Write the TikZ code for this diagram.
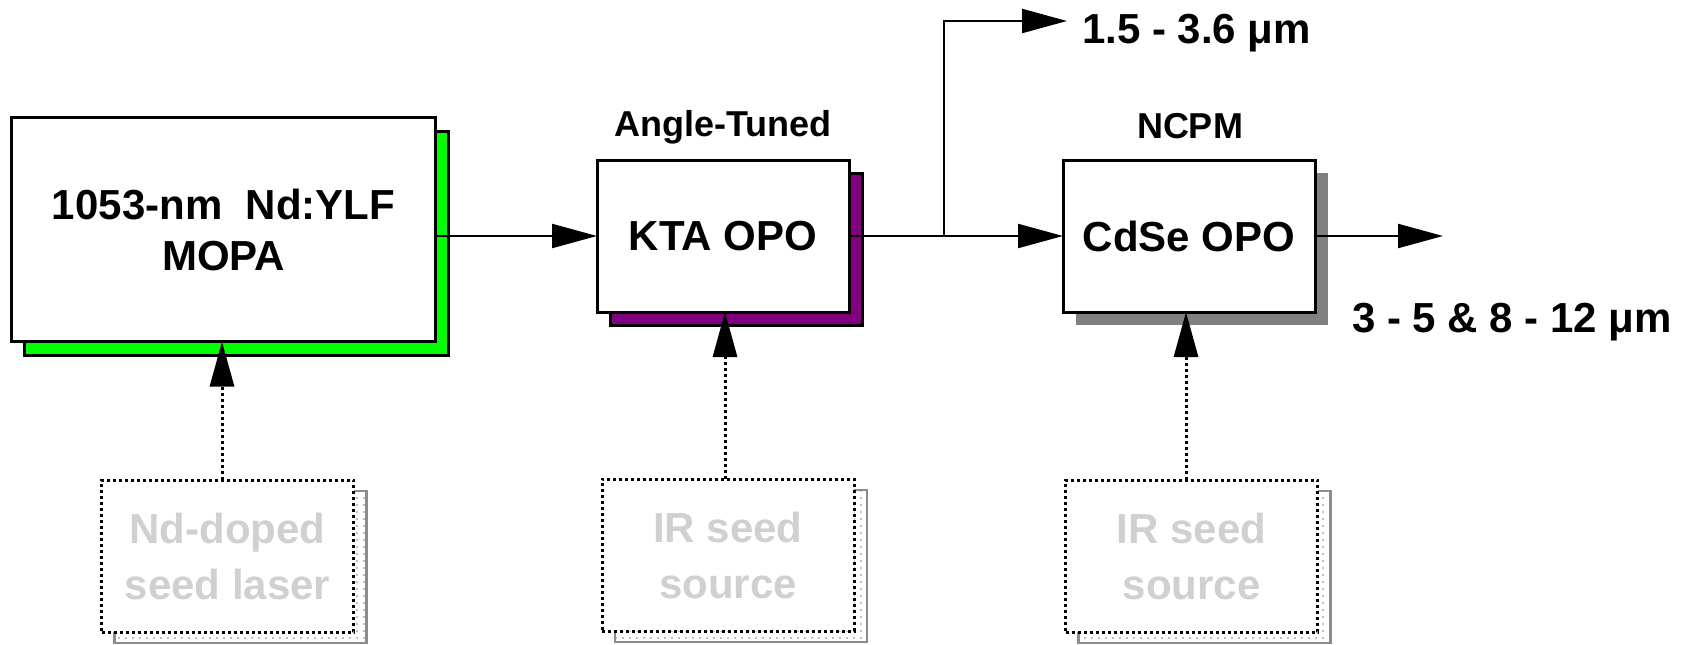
\documentclass[tikz,border=0pt]{standalone}
\usepackage{fontspec}
\setmainfont{Liberation Sans}
\usetikzlibrary{arrows.meta,calc,patterns.meta,backgrounds}
\definecolor{mopagreen}{RGB}{0,255,0}
\definecolor{ktapurple}{RGB}{128,0,128}
\definecolor{cdsegray}{RGB}{128,128,128}
\definecolor{seedtext}{RGB}{208,208,208}
\definecolor{seedsh}{RGB}{140,140,140}
\begin{document}
\begin{tikzpicture}[x=1pt,y=-1pt,
  box/.style={draw, line width=3pt, fill=white, outer sep=0pt, inner sep=0pt, align=center, font=\bfseries\fontsize{42}{51}\selectfont},
  seedbox/.style={draw, line width=3pt, dash pattern=on 3pt off 3pt, fill=white, outer sep=0pt, inner sep=0pt, minimum width=252pt, minimum height=152pt, align=center, text=seedtext, font=\bfseries\fontsize{42}{56}\selectfont},
  seedshadow/.style={draw=seedsh, line width=2.5pt, pattern={Dots[distance=7pt,radius=0.8pt]}, pattern color=gray},
  lbl/.style={font=\bfseries\fontsize{36}{40}\selectfont, inner sep=0pt, anchor=base},
  outlbl/.style={font=\bfseries\fontsize{42}{46}\selectfont, inner sep=0pt, anchor=base west},
  conn/.style={line width=2.2pt, -{Triangle[length=45pt,width=24pt]}},
  seedconn/.style={line width=3pt, dash pattern=on 3pt off 3pt, -{Triangle[length=45pt,width=24pt]}},
]
\useasboundingbox (0,0) rectangle (1692,645);

% main boxes
\node[box, minimum width=424pt, minimum height=224pt] (mopa) at (223.5,229.5) {1053-nm\ \ Nd:YLF\\MOPA};
\node[box, minimum width=252pt, minimum height=152pt] (kta) at (723,236) {KTA OPO};
\node[box, minimum width=252pt, minimum height=152pt] (cdse) at (1189,236) {CdSe OPO};

% seed boxes
\node[seedbox] (seed1) at (227.5,556) {Nd-doped\\seed laser};
\node[seedbox] (seed2) at (728,555) {IR seed\\source};
\node[seedbox] (seed3) at (1191.5,556) {IR seed\\source};

% shadows
\begin{scope}[on background layer]
\draw[line width=3pt, fill=mopagreen] ($(mopa.south west)+(12.5,13.5)$) rectangle ($(mopa.north east)+(12.5,13.5)$);
\draw[line width=3pt, fill=ktapurple] ($(kta.south west)+(13,13)$) rectangle ($(kta.north east)+(13,13)$);
\fill[cdsegray] ($(cdse.south west)+(13,13)$) rectangle ($(cdse.north east)+(13,13)$);
\draw[seedshadow] ($(seed1.south west)+(13,11)$) rectangle ($(seed1.north east)+(13,11)$);
\draw[seedshadow] ($(seed2.south west)+(13,11)$) rectangle ($(seed2.north east)+(13,11)$);
\draw[seedshadow] ($(seed3.south west)+(13,11)$) rectangle ($(seed3.north east)+(13,11)$);
\end{scope}

% labels
\node[lbl] (ang) at (723,136) {Angle-Tuned};
\node[lbl] (ncpm) at (1190,138) {NCPM};
\node[outlbl] (o1) at (1082,43) {1.5 - 3.6 μm};
\node[outlbl] (o2) at (1352,332) {3 - 5 \& 8 - 12 μm};

% seed connectors
\coordinate (a1) at (222,480);
\coordinate (a2) at (725,479);
\coordinate (a3) at (1186,480);
\draw[seedconn] (a1) -- (a1 |- mopa.south);
\draw[seedconn] (a2) -- (a2 |- kta.south);
\draw[seedconn] (a3) -- (a3 |- cdse.south);

% beam connectors
\draw[conn] (mopa.east |- kta.west) -- (kta.west);
\draw[conn] (kta.east) -- (cdse.west);
\coordinate (br) at (944,236);
\coordinate (t1) at (1067,21);
\draw[conn] (br) |- (t1);
\coordinate (t2) at (1443,236);
\draw[conn] (cdse.east) -- (t2);
\end{tikzpicture}
\end{document}
